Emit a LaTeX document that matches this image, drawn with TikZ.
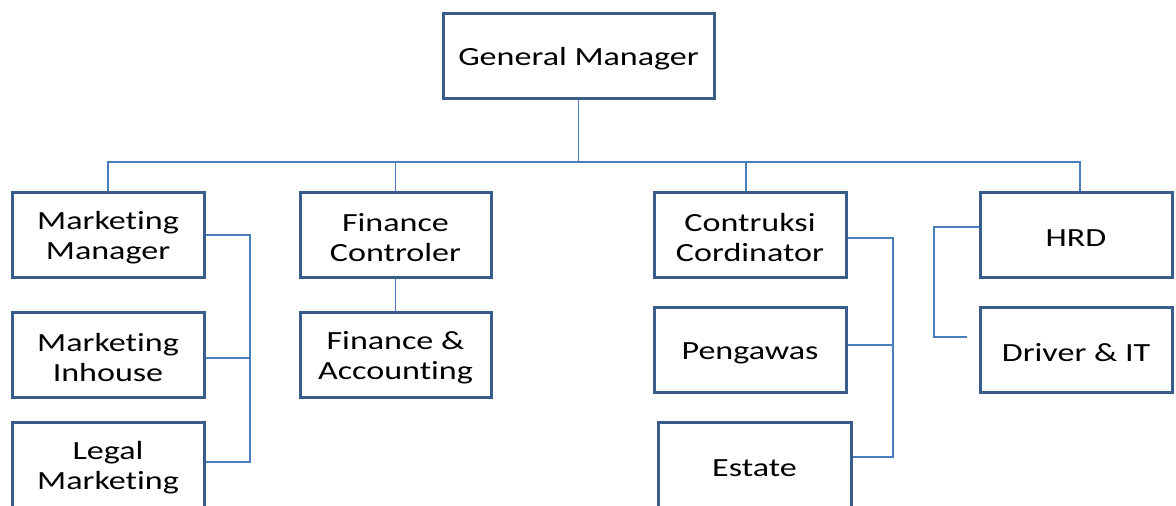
\documentclass[tikz,border=0pt]{standalone}
\usepackage{fontspec}
\setmainfont[FakeStretch=1.30,Ligatures=NoCommon]{Carlito}
\definecolor{boxline}{RGB}{56,93,138}
\definecolor{conn}{RGB}{74,126,187}
\newcommand\toppad{\rule{0pt}{24pt}}
\begin{document}
\begin{tikzpicture}[x=1pt,y=-1pt,
  orgbox/.style={draw=boxline, line width=3pt, fill=white, rectangle, inner sep=0pt,
    minimum width=192pt, minimum height=85pt, align=center,
    font=\fontsize{26.2}{30}\selectfont},
  link/.style={draw=conn, line width=1.4pt}]
\useasboundingbox (0,0) rectangle (1176,506);
\clip (0,0) rectangle (1176,506);
\fill[white] (0,0) rectangle (1176,506);
% nodes
\node[orgbox, minimum width=271pt] (gm) at (578.5,55.5) {\toppad General Manager};
\node[orgbox] (mm) at (108,235) {\toppad Marketing\\Manager};
\node[orgbox] (mi) at (108,354.5) {\toppad Marketing\\Inhouse};
\node[orgbox] (lm) at (108,465) {\toppad Legal\\Marketing};
\node[orgbox, minimum width=191pt] (fc) at (395.5,234.5) {\toppad Finance\\Controler};
\node[orgbox, minimum width=191pt] (fa) at (395.5,354.5) {\toppad Finance \&\\Accounting};
\node[orgbox] (cc) at (750,234.5) {\toppad Contruksi\\Cordinator};
\node[orgbox] (pw) at (750,350) {\toppad Pengawas};
\node[orgbox, minimum width=193pt] (es) at (754.5,465) {\toppad Estate};
\node[orgbox] (hrd) at (1076,234.5) {\toppad HRD};
\node[orgbox] (dit) at (1076,349.5) {\toppad Driver \& IT};
% coordinates
\coordinate (bus) at (0,162);
\coordinate (mx) at (250,0);
\coordinate (cx) at (893,0);
\coordinate (hx) at (934,0);
\coordinate (hend) at (967,337);
% connectors
\draw[link] (gm.south) -- (gm.south |- bus);
\draw[link] (mm.north) -- (mm.north |- bus) -- ([xshift=4pt]hrd.north |- bus) -- ([xshift=4pt]hrd.north);
\draw[link] (fc.north) -- (fc.north |- bus);
\draw[link] ([xshift=-4pt]cc.north) -- ([xshift=-4pt]cc.north |- bus);
\draw[link] (fc.south) -- (fa.north);
% marketing bracket
\draw[link] (mm.east) -- (mm.east -| mx) -- ([yshift=3pt]lm.east -| mx) -- ([yshift=3pt]lm.east);
\draw[link] ([yshift=-3.5pt]mi.east) -- ([yshift=-3.5pt]mi.east -| mx);
% construction bracket
\draw[link] ([yshift=-3.5pt]cc.east) -- ([yshift=-3.5pt]cc.east -| cx) -- ([yshift=8pt]es.east -| cx) -- ([yshift=8pt]es.east);
\draw[link] ([yshift=5pt]pw.east) -- ([yshift=5pt]pw.east -| cx);
% HRD bracket
\draw[link] ([yshift=7.5pt]hrd.west) -- ([yshift=7.5pt]hrd.west -| hx) -- (hend -| hx) -- (hend);
\end{tikzpicture}
\end{document}
